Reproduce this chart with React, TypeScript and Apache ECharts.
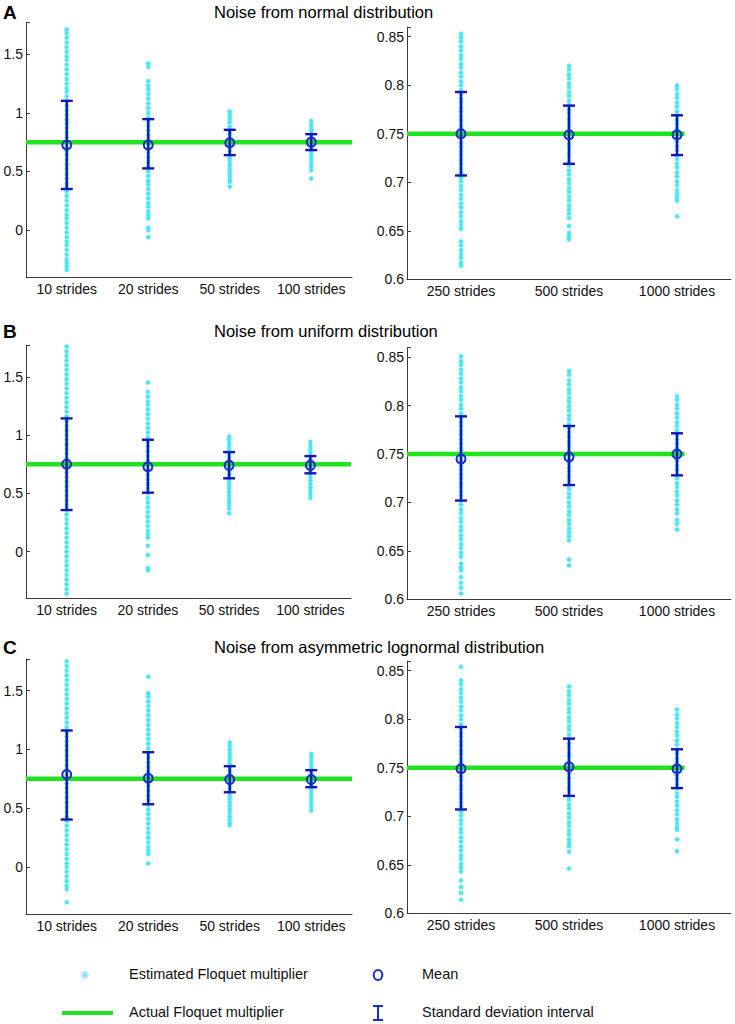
import React, { useEffect, useRef } from "react";
import * as echarts from "echarts";

// ---------- categories ----------
const shortCats = ["10 strides", "20 strides", "50 strides", "100 strides"];
const longCats = ["250 strides", "500 strides", "1000 strides"];
const actualMultiplier = 0.75;

// ---------- titles ----------
const panelLetters = ["A", "B", "C"];
const panelTitles = [
  "Noise from normal distribution",
  "Noise from uniform distribution",
  "Noise from asymmetric lognormal distribution",
];

// ---------- row A : normal ----------
const a10 = [1.71,1.68,1.64,1.6,1.56,1.52,1.48,1.45,1.41,1.37,1.33,1.29,1.25,1.21,1.18,1.14,1.1,1.06,1.02,0.98,0.94,0.91,0.87,0.83,0.79,0.75,0.71,0.67,0.64,0.6,0.56,0.52,0.48,0.44,0.4,0.37,0.33,0.29,0.25,0.21,0.17,0.13,0.1,0.06,0.02,-0.02,-0.06,-0.1,-0.13,-0.17,-0.21,-0.25,-0.28,-0.31,-0.34];
const a20 = [1.42,1.39,1.27,1.23,1.2,1.16,1.12,1.08,1.04,1.0,0.96,0.93,0.89,0.85,0.81,0.77,0.73,0.69,0.66,0.62,0.58,0.54,0.5,0.46,0.42,0.39,0.35,0.31,0.27,0.23,0.2,0.16,0.13,0.1,0.02,0.0,-0.06];
const a50 = [1.01,0.98,0.95,0.92,0.88,0.85,0.82,0.79,0.76,0.73,0.7,0.67,0.64,0.61,0.58,0.55,0.52,0.49,0.46,0.43,0.41,0.37];
const a100 = [0.93,0.9,0.87,0.84,0.81,0.78,0.75,0.72,0.69,0.66,0.63,0.6,0.57,0.54,0.51,0.44];
const a250 = [0.853,0.849,0.845,0.84,0.836,0.831,0.827,0.822,0.818,0.813,0.809,0.804,0.8,0.795,0.791,0.786,0.782,0.777,0.773,0.768,0.764,0.759,0.755,0.75,0.746,0.741,0.737,0.732,0.728,0.723,0.719,0.714,0.71,0.705,0.701,0.696,0.692,0.687,0.683,0.678,0.674,0.669,0.665,0.66,0.656,0.652,0.639,0.635,0.63,0.626,0.622,0.617,0.614];
const a500 = [0.82,0.816,0.811,0.807,0.802,0.798,0.793,0.789,0.784,0.78,0.775,0.771,0.766,0.762,0.757,0.753,0.748,0.744,0.739,0.735,0.73,0.726,0.721,0.717,0.712,0.708,0.703,0.699,0.694,0.69,0.685,0.681,0.676,0.672,0.668,0.663,0.655,0.648,0.644,0.641];
const a1000 = [0.8,0.796,0.791,0.787,0.782,0.778,0.773,0.769,0.764,0.76,0.755,0.751,0.746,0.742,0.737,0.733,0.728,0.724,0.719,0.715,0.71,0.706,0.701,0.697,0.692,0.688,0.684,0.681,0.665];
const aShortMean = [0.725, 0.725, 0.745, 0.75];
const aShortLow = [0.35, 0.526, 0.639, 0.682];
const aShortHigh = [1.102, 0.946, 0.855, 0.818];
const aLongMean = [0.75, 0.749, 0.749];
const aLongLow = [0.707, 0.719, 0.728];
const aLongHigh = [0.793, 0.779, 0.769];

// ---------- row B : uniform ----------
const b10 = [1.76,1.72,1.68,1.64,1.6,1.56,1.52,1.48,1.44,1.4,1.36,1.32,1.28,1.24,1.2,1.16,1.12,1.08,1.04,1.0,0.96,0.92,0.88,0.84,0.8,0.76,0.72,0.68,0.64,0.6,0.56,0.52,0.48,0.44,0.4,0.36,0.32,0.28,0.24,0.2,0.16,0.12,0.08,0.04,0.0,-0.04,-0.08,-0.12,-0.16,-0.2,-0.24,-0.28,-0.32,-0.36];
const b20 = [1.45,1.37,1.33,1.29,1.26,1.22,1.18,1.14,1.1,1.06,1.02,0.98,0.94,0.9,0.86,0.82,0.78,0.74,0.7,0.66,0.62,0.58,0.54,0.5,0.46,0.42,0.38,0.34,0.3,0.26,0.22,0.18,0.15,0.12,0.05,-0.03,-0.14,-0.16];
const b50 = [0.99,0.96,0.93,0.9,0.87,0.84,0.81,0.78,0.75,0.72,0.69,0.66,0.63,0.6,0.57,0.54,0.51,0.48,0.45,0.42,0.4,0.37,0.33];
const b100 = [0.94,0.91,0.88,0.85,0.82,0.79,0.76,0.73,0.7,0.67,0.64,0.61,0.58,0.55,0.52,0.49,0.46];
const b250 = [0.851,0.846,0.842,0.837,0.833,0.828,0.824,0.819,0.815,0.81,0.806,0.801,0.797,0.792,0.788,0.783,0.779,0.774,0.77,0.765,0.761,0.756,0.752,0.747,0.743,0.738,0.734,0.729,0.725,0.72,0.716,0.711,0.707,0.702,0.698,0.693,0.689,0.684,0.68,0.675,0.671,0.666,0.662,0.657,0.653,0.648,0.644,0.637,0.633,0.63,0.623,0.617,0.612,0.606];
const b500 = [0.836,0.832,0.826,0.822,0.817,0.813,0.808,0.804,0.799,0.795,0.79,0.786,0.781,0.777,0.772,0.768,0.763,0.759,0.754,0.75,0.745,0.741,0.736,0.732,0.727,0.723,0.718,0.714,0.709,0.705,0.7,0.696,0.691,0.687,0.682,0.678,0.673,0.669,0.665,0.661,0.641,0.635];
const b1000 = [0.81,0.806,0.801,0.797,0.792,0.788,0.783,0.779,0.774,0.77,0.765,0.761,0.756,0.752,0.747,0.743,0.738,0.734,0.729,0.725,0.72,0.716,0.711,0.707,0.702,0.698,0.693,0.689,0.682,0.678,0.672];
const bShortMean = [0.75, 0.728, 0.74, 0.74];
const bShortLow = [0.357, 0.506, 0.629, 0.672];
const bShortHigh = [1.143, 0.96, 0.854, 0.82];
const bLongMean = [0.745, 0.747, 0.75];
const bLongLow = [0.702, 0.718, 0.728];
const bLongHigh = [0.789, 0.779, 0.7715];

// ---------- row C : asymmetric lognormal ----------
const c10 = [1.75,1.71,1.67,1.63,1.59,1.55,1.51,1.47,1.43,1.39,1.35,1.31,1.27,1.23,1.19,1.15,1.11,1.07,1.03,0.99,0.95,0.91,0.87,0.83,0.79,0.75,0.71,0.67,0.63,0.59,0.55,0.51,0.47,0.43,0.39,0.35,0.31,0.27,0.23,0.19,0.15,0.11,0.07,0.03,0.0,-0.04,-0.08,-0.12,-0.16,-0.19,-0.3];
const c20 = [1.62,1.48,1.45,1.41,1.37,1.33,1.29,1.25,1.21,1.17,1.13,1.09,1.05,1.01,0.97,0.93,0.89,0.85,0.81,0.77,0.73,0.69,0.65,0.61,0.57,0.53,0.49,0.45,0.41,0.37,0.33,0.29,0.25,0.21,0.17,0.14,0.11,0.03];
const c50 = [1.06,1.03,1.0,0.97,0.94,0.91,0.88,0.85,0.82,0.79,0.76,0.73,0.7,0.67,0.64,0.61,0.58,0.55,0.52,0.49,0.46,0.43,0.4,0.37,0.355];
const c100 = [0.96,0.93,0.9,0.87,0.84,0.81,0.78,0.75,0.72,0.69,0.66,0.63,0.6,0.57,0.54,0.51,0.48];
const c250 = [0.854,0.84,0.836,0.831,0.827,0.822,0.818,0.813,0.809,0.804,0.8,0.795,0.791,0.786,0.782,0.777,0.773,0.768,0.764,0.759,0.755,0.75,0.746,0.741,0.737,0.732,0.728,0.723,0.719,0.714,0.71,0.705,0.701,0.696,0.692,0.687,0.683,0.678,0.674,0.669,0.665,0.66,0.656,0.651,0.647,0.643,0.634,0.627,0.621,0.614];
const c500 = [0.834,0.829,0.825,0.82,0.816,0.811,0.807,0.802,0.798,0.793,0.789,0.784,0.78,0.775,0.771,0.766,0.762,0.757,0.753,0.748,0.744,0.739,0.735,0.73,0.726,0.721,0.717,0.712,0.708,0.703,0.699,0.694,0.69,0.685,0.681,0.676,0.672,0.669,0.6635,0.646];
const c1000 = [0.81,0.805,0.801,0.796,0.792,0.787,0.783,0.778,0.774,0.769,0.765,0.76,0.756,0.751,0.747,0.742,0.738,0.733,0.729,0.724,0.72,0.715,0.711,0.706,0.702,0.697,0.693,0.689,0.686,0.676,0.664];
const cShortMean = [0.787, 0.755, 0.745, 0.745];
const cShortLow = [0.404, 0.534, 0.636, 0.679];
const cShortHigh = [1.162, 0.977, 0.858, 0.824];
const cLongMean = [0.749, 0.751, 0.749];
const cLongLow = [0.707, 0.721, 0.729];
const cLongHigh = [0.792, 0.78, 0.769];

// ---------- legend ----------
const legendLabels = [
  "Estimated Floquet multiplier",
  "Actual Floquet multiplier",
  "Mean",
  "Standard deviation interval",
];

// ---------- styles ----------
const FONT = '"Liberation Sans", Arial, Helvetica, sans-serif';
const CYAN = "#45e6f2";
const GREEN = "#1fe31f";
const BAR = "#1616b8";
const MEAN = "#1b2ccc";
const AXIS = "#3a3a3a";
const ASTERISK = "path://M5 0L5 10M0 5L10 5M1.6 1.6L8.4 8.4M1.6 8.4L8.4 1.6";

const panels = [
  { cats: shortCats, cols: [a10, a20, a50, a100], mean: aShortMean, low: aShortLow, high: aShortHigh, yMin: -0.4, yMax: 1.77, step: 0.5, lineEnd: 4 },
  { cats: longCats, cols: [a250, a500, a1000], mean: aLongMean, low: aLongLow, high: aLongHigh, yMin: 0.6, yMax: 0.86, step: 0.05, lineEnd: 2.57 },
  { cats: shortCats, cols: [b10, b20, b50, b100], mean: bShortMean, low: bShortLow, high: bShortHigh, yMin: -0.4, yMax: 1.77, step: 0.5, lineEnd: 4 },
  { cats: longCats, cols: [b250, b500, b1000], mean: bLongMean, low: bLongLow, high: bLongHigh, yMin: 0.6, yMax: 0.86, step: 0.05, lineEnd: 2.57 },
  { cats: shortCats, cols: [c10, c20, c50, c100], mean: cShortMean, low: cShortLow, high: cShortHigh, yMin: -0.4, yMax: 1.77, step: 0.5, lineEnd: 4 },
  { cats: longCats, cols: [c250, c500, c1000], mean: cLongMean, low: cLongLow, high: cLongHigh, yMin: 0.6, yMax: 0.86, step: 0.05, lineEnd: 2.57 },
];

const layouts = [
  { left: 26, top: 22.5, width: 326, height: 254.5 },
  { left: 407, top: 27, width: 324, height: 252.3 },
  { left: 26, top: 345.3, width: 325, height: 253 },
  { left: 407, top: 347.6, width: 324, height: 251.7 },
  { left: 26, top: 659, width: 326, height: 255 },
  { left: 407, top: 661, width: 324, height: 252.3 },
];
const titleY = [12.5, 331.7, 648];

function buildOption(): any {
  const grid: any[] = [];
  const xAxis: any[] = [];
  const yAxis: any[] = [];
  const series: any[] = [];

  panels.forEach((p, i) => {
    grid.push({ ...layouts[i] });
    xAxis.push({
      type: "category",
      gridIndex: i,
      data: p.cats,
      boundaryGap: true,
      axisLine: { onZero: false, lineStyle: { color: AXIS, width: 1 } },
      axisTick: { inside: true, alignWithLabel: true, length: 4, lineStyle: { color: AXIS } },
      axisLabel: { interval: 0, hideOverlap: false, color: "#111", fontFamily: FONT, fontSize: 14, margin: 5 },
      splitLine: { show: false },
    });
    xAxis.push({ type: "value", gridIndex: i, min: 0, max: p.cats.length, show: false });
    yAxis.push({
      type: "value",
      gridIndex: i,
      min: p.yMin,
      max: p.yMax,
      splitNumber: p.step === 0.5 ? 4 : 5,
      axisLine: { show: true, onZero: false, lineStyle: { color: AXIS, width: 1 } },
      axisTick: { show: true, inside: true, length: 4, lineStyle: { color: AXIS } },
      splitLine: { show: false },
      axisLabel: {
        color: "#111",
        fontFamily: FONT,
        fontSize: 14,
        margin: 3,
        formatter: (v: number) => {
          const r = v / p.step;
          if (Math.abs(r - Math.round(r)) > 1e-6) return "";
          return String(parseFloat(v.toFixed(3)));
        },
      },
    });

    const pts: number[][] = [];
    p.cols.forEach((col, ci) => col.forEach((v) => pts.push([ci, v])));
    series.push({
      type: "scatter",
      xAxisIndex: 2 * i,
      yAxisIndex: i,
      data: pts,
      symbol: ASTERISK,
      symbolSize: 5,
      itemStyle: { color: "rgba(0,0,0,0)", borderColor: CYAN, borderWidth: 1.1, opacity: 1 },
      z: 2,
      silent: true,
    });
    series.push({
      type: "line",
      xAxisIndex: 2 * i + 1,
      yAxisIndex: i,
      data: [[0, actualMultiplier], [p.lineEnd, actualMultiplier]],
      symbol: "none",
      lineStyle: { color: GREEN, width: 4.5 },
      z: 3,
      silent: true,
    });
    series.push({
      type: "custom",
      xAxisIndex: 2 * i,
      yAxisIndex: i,
      data: p.low.map((l, k) => [k, l, p.high[k]]),
      encode: { x: 0, y: [1, 2] },
      z: 4,
      silent: true,
      renderItem: (params: any, api: any) => {
        const x = api.value(0);
        const lo = api.coord([x, api.value(1)]);
        const hi = api.coord([x, api.value(2)]);
        const hw = 6;
        const st = { stroke: BAR, lineWidth: 2.4 };
        return {
          type: "group",
          children: [
            { type: "line", shape: { x1: lo[0], y1: lo[1], x2: hi[0], y2: hi[1] }, style: st },
            { type: "line", shape: { x1: lo[0] - hw, y1: lo[1], x2: lo[0] + hw, y2: lo[1] }, style: st },
            { type: "line", shape: { x1: hi[0] - hw, y1: hi[1], x2: hi[0] + hw, y2: hi[1] }, style: st },
          ],
        };
      },
    });
    series.push({
      type: "scatter",
      xAxisIndex: 2 * i,
      yAxisIndex: i,
      data: p.mean.map((m, k) => [k, m]),
      symbol: "circle",
      symbolSize: 9,
      itemStyle: { color: "rgba(0,0,0,0)", borderColor: MEAN, borderWidth: 2, opacity: 1 },
      z: 5,
      silent: true,
    });
  });

  const graphic: any[] = [];
  panelLetters.forEach((L, r) => {
    graphic.push({
      type: "text",
      left: 3,
      top: titleY[r] - 10,
      style: { text: L, font: `bold 19px ${FONT}`, fill: "#000" },
    });
    graphic.push({
      type: "text",
      left: 214,
      top: titleY[r] - 9.5,
      style: { text: panelTitles[r], font: `16.5px ${FONT}`, fill: "#000" },
    });
  });

  const row1 = 975;
  const row2 = 1013;
  const ast = (cx: number, cy: number, s: number) => [
    { type: "line", shape: { x1: cx, y1: cy - s, x2: cx, y2: cy + s }, style: { stroke: "#7fd9f6", lineWidth: 1.2 } },
    { type: "line", shape: { x1: cx - s, y1: cy, x2: cx + s, y2: cy }, style: { stroke: "#7fd9f6", lineWidth: 1.2 } },
    { type: "line", shape: { x1: cx - s * 0.7, y1: cy - s * 0.7, x2: cx + s * 0.7, y2: cy + s * 0.7 }, style: { stroke: "#7fd9f6", lineWidth: 1.2 } },
    { type: "line", shape: { x1: cx - s * 0.7, y1: cy + s * 0.7, x2: cx + s * 0.7, y2: cy - s * 0.7 }, style: { stroke: "#7fd9f6", lineWidth: 1.2 } },
  ];
  graphic.push({ type: "group", children: ast(85, row1, 4) });
  graphic.push({ type: "line", shape: { x1: 62, y1: row2, x2: 113, y2: row2 }, style: { stroke: GREEN, lineWidth: 4 } });
  graphic.push({ type: "ellipse", shape: { cx: 378, cy: row1, rx: 4.3, ry: 5 }, style: { fill: "none", stroke: MEAN, lineWidth: 2 } });
  graphic.push({
    type: "group",
    children: [
      { type: "line", shape: { x1: 378, y1: row2 - 7, x2: 378, y2: row2 + 7 }, style: { stroke: MEAN, lineWidth: 2 } },
      { type: "line", shape: { x1: 373, y1: row2 - 7, x2: 383, y2: row2 - 7 }, style: { stroke: MEAN, lineWidth: 2 } },
      { type: "line", shape: { x1: 373, y1: row2 + 7, x2: 383, y2: row2 + 7 }, style: { stroke: MEAN, lineWidth: 2 } },
    ],
  });
  const legendPos = [
    [129, row1],
    [129, row2],
    [422, row1],
    [422, row2],
  ];
  legendLabels.forEach((t, k) => {
    graphic.push({
      type: "text",
      left: legendPos[k][0],
      top: legendPos[k][1] - 8.5,
      style: { text: t, font: `14.5px ${FONT}`, fill: "#111" },
    });
  });

  return {
    animation: false,
    backgroundColor: "#ffffff",
    grid,
    xAxis,
    yAxis,
    series,
    graphic,
  };
}

export default function App() {
  const ref = useRef<HTMLDivElement>(null);
  useEffect(() => {
    if (!ref.current) return;
    const chart = echarts.init(ref.current, null, { renderer: "svg" });
    chart.setOption(buildOption());
    return () => chart.dispose();
  }, []);
  return (
    <div
      ref={ref}
      style={{ position: "absolute", left: 0, top: 0, width: 735, height: 1024, background: "#fff" }}
    />
  );
}
